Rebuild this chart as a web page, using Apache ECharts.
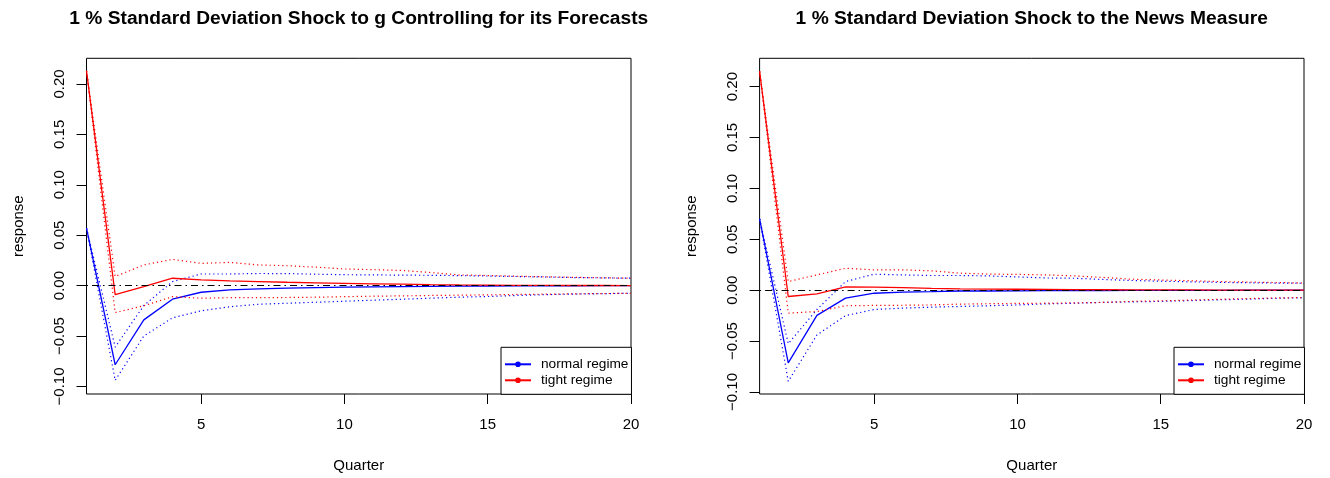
<!DOCTYPE html>
<html>
<head>
<meta charset="utf-8">
<script src="https://cdn.jsdelivr.net/npm/echarts@6/dist/echarts.min.js"></script>
<style>
html,body{margin:0;padding:0;background:#fff;}
#chart{width:1330px;height:478px;}
</style>
</head>
<body>
<div id="chart"></div>
<script>
// ---- data ----
const quarters = [1,2,3,4,5,6,7,8,9,10,11,12,13,14,15,16,17,18,19,20];
const xTicks = [5,10,15,20];
const yTicks = [-0.10,-0.05,0.00,0.05,0.10,0.15,0.20];
const titles = ['1 % Standard Deviation Shock to g Controlling for its Forecasts',
                '1 % Standard Deviation Shock to the News Measure'];
const legendNames = ['normal regime','tight regime'];

// Panel 1: shock to g
const normalG      = [0.057,-0.0785,-0.034,-0.0135,-0.0066,-0.0043,-0.0033,-0.0026,-0.002,-0.0016,-0.0013,-0.001,-0.0008,-0.0006,-0.0004,-0.0003,-0.0002,-0.0002,-0.0001,-0.0001];
const normalGUpper = [0.057,-0.061,-0.0198,0.004,0.0115,0.0115,0.012,0.0119,0.0113,0.0108,0.0106,0.0104,0.0102,0.0099,0.0095,0.009,0.0085,0.008,0.0077,0.0073];
const normalGLower = [0.057,-0.094,-0.050,-0.032,-0.025,-0.021,-0.0185,-0.0175,-0.0165,-0.0155,-0.0145,-0.0135,-0.0125,-0.0115,-0.0108,-0.0098,-0.009,-0.0084,-0.008,-0.0076];
const tightG       = [0.213,-0.0089,-0.001,0.0073,0.0056,0.0046,0.004,0.0033,0.0027,0.0022,0.0018,0.0014,0.001,0.0007,0.0005,0.0003,0.0002,0.0001,0.0001,0.0];
const tightGUpper  = [0.213,0.009,0.0205,0.026,0.022,0.023,0.0205,0.0197,0.0183,0.0165,0.0158,0.015,0.013,0.0106,0.0100,0.0093,0.0087,0.0082,0.0077,0.0073];
const tightGLower  = [0.213,-0.0267,-0.020,-0.011,-0.0125,-0.012,-0.012,-0.0118,-0.0115,-0.011,-0.0105,-0.0102,-0.0098,-0.0095,-0.0092,-0.0088,-0.0085,-0.0082,-0.0079,-0.0076];

// Panel 2: shock to the news measure
const normalN      = [0.07,-0.0715,-0.0248,-0.0078,-0.003,-0.002,-0.0015,-0.0008,-0.0008,-0.0006,-0.0005,-0.0004,-0.0003,-0.0002,-0.0002,-0.0001,-0.0001,0,0,0];
const normalNUpper = [0.07,-0.0526,-0.019,0.0085,0.0157,0.015,0.0144,0.0144,0.014,0.013,0.012,0.0117,0.0105,0.0095,0.0088,0.0082,0.0077,0.0073,0.007,0.0068];
const normalNLower = [0.07,-0.0895,-0.044,-0.025,-0.019,-0.0176,-0.0167,-0.016,-0.0153,-0.0145,-0.0135,-0.0128,-0.012,-0.0115,-0.011,-0.0103,-0.0095,-0.0088,-0.008,-0.0074];
const tightN       = [0.215,-0.0062,-0.0036,0.0033,0.003,0.0025,0.0018,0.0013,0.0011,0.0009,0.0007,0.0005,0.0004,0.0003,0.0002,0.0002,0.0001,0.0001,0.0001,0.0];
const tightNUpper  = [0.215,0.0085,0.015,0.0215,0.020,0.020,0.019,0.0167,0.0158,0.0155,0.015,0.014,0.0125,0.0108,0.010,0.0093,0.0085,0.008,0.0075,0.007];
const tightNLower  = [0.215,-0.0225,-0.021,-0.0153,-0.015,-0.0148,-0.0145,-0.0137,-0.0133,-0.013,-0.0128,-0.0125,-0.012,-0.011,-0.0105,-0.0098,-0.009,-0.0083,-0.0077,-0.0072];

const panels = [
  {normal: normalG, normalUp: normalGUpper, normalLo: normalGLower, tight: tightG, tightUp: tightGUpper, tightLo: tightGLower, ymin: -0.1075, ymax: 0.2254},
  {normal: normalN, normalUp: normalNUpper, normalLo: normalNLower, tight: tightN, tightUp: tightNUpper, tightLo: tightNLower, ymin: -0.102, ymax: 0.2278}
];

// ---- layout ----
const FONT = "'Liberation Sans', Arial, Helvetica, sans-serif";
const grids = [
  {left: 86.5, top: 58.3, width: 544.5, height: 336},
  {left: 759.6, top: 58.3, width: 544.4, height: 336}
];
const BLUE = '#0000ff', RED = '#ff0000';

const pair = arr => quarters.map((q,i) => [q, arr[i]]);

const option = {
  animation: false,
  backgroundColor: '#fff',
  title: [],
  grid: [],
  xAxis: [],
  yAxis: [],
  legend: [],
  series: []
};

grids.forEach((g, p) => {
  const P = panels[p];
  option.grid.push({left: g.left, top: g.top, width: g.width, height: g.height,
    show: true, borderColor: '#000', borderWidth: 1, backgroundColor: 'transparent'});
  option.title.push({
    text: titles[p], left: g.left + g.width/2, top: 9.5, textAlign: 'center', padding: 0,
    textStyle: {fontFamily: FONT, fontWeight: 'bold', fontSize: 19.2, color: '#000'}
  });
  option.xAxis.push({
    type: 'value', gridIndex: p, min: 1, max: 20,
    name: 'Quarter', nameLocation: 'middle', nameGap: 64,
    nameTextStyle: {fontFamily: FONT, fontSize: 15, color: '#000'},
    axisLine: {show: false, onZero: false},
    splitLine: {show: false},
    axisTick: {show: true, length: 10, inside: false, customValues: xTicks, lineStyle: {color: '#000', width: 1}},
    axisLabel: {show: true, customValues: xTicks, margin: 23, fontFamily: FONT, fontSize: 15, color: '#000'}
  });
  option.yAxis.push({
    type: 'value', gridIndex: p, min: P.ymin, max: P.ymax,
    name: 'response', nameLocation: 'middle', nameGap: 60, nameRotate: 90,
    nameTextStyle: {fontFamily: FONT, fontSize: 15, color: '#000'},
    axisLine: {show: false, onZero: false},
    splitLine: {show: false},
    axisTick: {show: true, length: 10, inside: false, customValues: yTicks, lineStyle: {color: '#000', width: 1}},
    axisLabel: {show: true, customValues: yTicks, rotate: 90, margin: 19, fontFamily: FONT, fontSize: 15, color: '#000',
      formatter: v => v.toFixed(2).replace('-', '\u2212')}
  });
  option.legend.push({
    orient: 'vertical', left: g.left + g.width - 130, top: 347.3,
    data: legendNames,
    itemWidth: 26, itemHeight: 7, itemGap: 0,
    padding: [9, 3, 6, 3],
    backgroundColor: '#fff', borderColor: '#000', borderWidth: 1, borderRadius: 0,
    lineStyle: {width: 2},
    selectedMode: false,
    textStyle: {fontFamily: FONT, fontSize: 13.7, color: '#000', lineHeight: 16, padding: [0,0,0,5]}
  });
  const common = {xAxisIndex: p, yAxisIndex: p, type: 'line', symbol: 'none', silent: true};
  const bands = [
    ['normal regime band upper', P.normalUp, BLUE],
    ['normal regime band lower', P.normalLo, BLUE],
    ['tight regime band upper', P.tightUp, RED],
    ['tight regime band lower', P.tightLo, RED]
  ];
  option.series.push(Object.assign({}, common, {name: 'normal regime', data: pair(P.normal),
    itemStyle: {color: BLUE}, lineStyle: {color: BLUE, width: 1.3}, z: 3}));
  bands.slice(0,2).forEach(b => option.series.push(Object.assign({}, common, {name: b[0], data: pair(b[1]),
    itemStyle: {color: b[2]}, lineStyle: {color: b[2], width: 1.2, type: [1.2, 3]}, z: 3})));
  option.series.push(Object.assign({}, common, {name: 'tight regime', data: pair(P.tight),
    itemStyle: {color: RED}, lineStyle: {color: RED, width: 1.3}, z: 4}));
  bands.slice(2).forEach(b => option.series.push(Object.assign({}, common, {name: b[0], data: pair(b[1]),
    itemStyle: {color: b[2]}, lineStyle: {color: b[2], width: 1.2, type: [1.2, 3]}, z: 4})));
  option.series.push(Object.assign({}, common, {name: 'zero line ' + p, data: [],
    z: 5,
    markLine: {silent: true, symbol: ['none','none'], label: {show: false},
      lineStyle: {color: '#000', width: 1.1, type: [1.5, 4, 7, 4]},
      data: [{yAxis: 0}]}}));
});

const chart = echarts.init(document.getElementById('chart'), null, {renderer: 'canvas'});
chart.setOption(option);
</script>
</body>
</html>
